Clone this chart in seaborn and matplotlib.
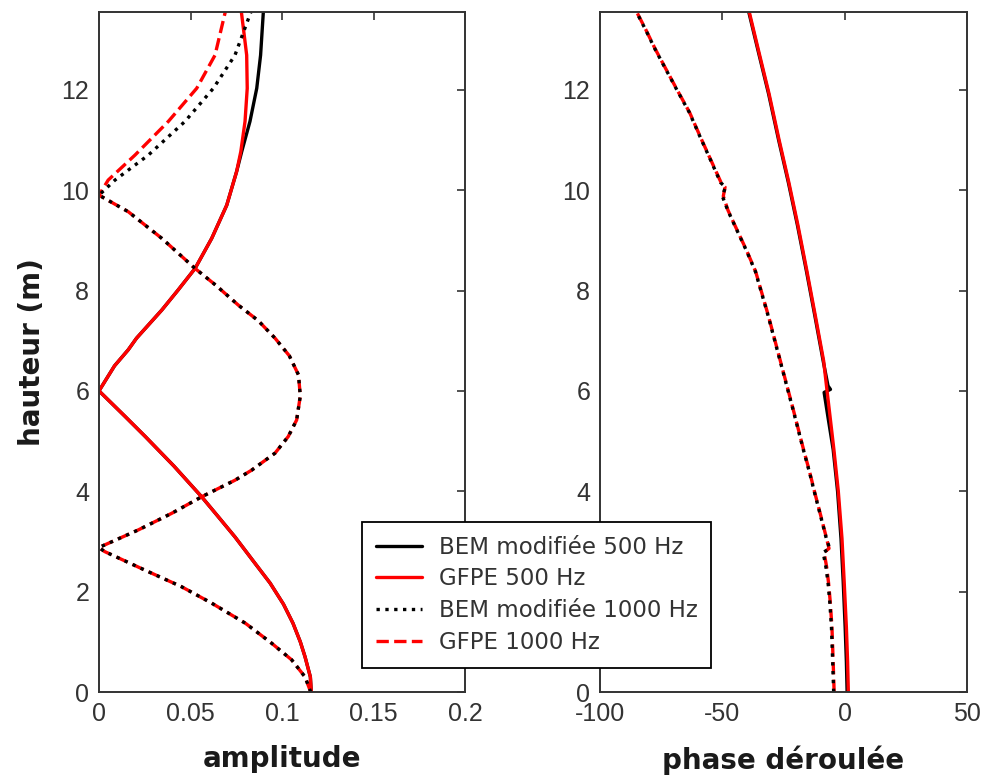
import numpy as np
import pandas as pd
import matplotlib
matplotlib.use("Agg")
import matplotlib.pyplot as plt
import seaborn as sns
from matplotlib.lines import Line2D

# ---------------- data ----------------
# amplitude, 500 Hz
h_amp500 = [0, 0.3, 0.7, 1.0, 1.37, 1.75, 2.17, 2.6, 3.09, 3.5, 3.89, 4.5, 5.09, 5.5, 6.0,
            6.5, 6.82, 7.05, 7.61, 8.0, 8.44, 9.04, 9.7, 10.37, 10.77, 11.37, 12.03, 12.69,
            13.55]
amp500_bem = [0.116, 0.1155, 0.1126, 0.110, 0.106, 0.1008, 0.0935, 0.0845, 0.0743, 0.065,
              0.0561, 0.041, 0.0253, 0.014, 0.0, 0.0085, 0.016, 0.0205, 0.0343, 0.043,
              0.0525, 0.0616, 0.0698, 0.0752, 0.078, 0.0825, 0.0862, 0.0883, 0.0898]
amp500_gfpe = [0.116, 0.1155, 0.1126, 0.110, 0.106, 0.1008, 0.0935, 0.0845, 0.0743, 0.065,
               0.0561, 0.041, 0.0253, 0.014, 0.0, 0.0085, 0.016, 0.0205, 0.0343, 0.043,
               0.0525, 0.0616, 0.0698, 0.0752, 0.0775, 0.0798, 0.081, 0.0807, 0.0778]
# amplitude, 1000 Hz
h_amp1000 = [0, 0.3, 0.64, 0.97, 1.37, 1.77, 2.1, 2.43, 2.8, 2.88, 3.23, 3.56, 3.89, 4.22,
             4.42, 4.76, 5.09, 5.42, 5.9, 6.32, 6.7, 7.05, 7.4, 7.71, 8.1, 8.44, 9.04, 9.57,
             9.9, 10.2, 10.7, 11.37, 12.03, 12.69, 13.55]
amp1000_bem = [0.1157, 0.1126, 0.1053, 0.0944, 0.080, 0.0616, 0.045, 0.025, 0.003, 0.0,
               0.0215, 0.0397, 0.0561, 0.0743, 0.0834, 0.0962, 0.1034, 0.108, 0.110, 0.109,
               0.104, 0.0962, 0.087, 0.0761, 0.064, 0.0525, 0.0343, 0.016, 0.0, 0.0087,
               0.027, 0.047, 0.0625, 0.0743, 0.083]
amp1000_gfpe = [0.1157, 0.1126, 0.1053, 0.0944, 0.080, 0.0616, 0.045, 0.025, 0.003, 0.0,
                0.0215, 0.0397, 0.0561, 0.0743, 0.0834, 0.0962, 0.1034, 0.108, 0.110, 0.109,
                0.104, 0.0962, 0.087, 0.0761, 0.064, 0.0525, 0.0343, 0.016, 0.0, 0.005,
                0.0197, 0.0379, 0.0534, 0.0634, 0.069]

# unwrapped phase, 500 Hz
h_ph500_bem = [0, 0.6, 1.29, 2.2, 3.06, 4.0, 4.83, 5.5, 5.97, 6.03, 6.1, 6.6, 7.5, 8.38,
               9.3, 10.15, 11.0, 11.92, 12.7, 13.55]
ph500_bem = [1.0, 0.7, 0.2, -0.6, -1.5, -2.9, -4.7, -6.9, -8.4, -5.8, -6.8, -8.8, -12.2,
             -15.6, -19.3, -23.0, -27.0, -31.1, -35.0, -39.2]
h_ph500_gfpe = [0, 0.6, 1.29, 2.2, 3.06, 4.0, 4.83, 5.5, 6.0, 6.6, 7.5, 8.38, 9.3, 10.15,
                11.0, 11.92, 12.7, 13.55]
ph500_gfpe = [1.5, 1.2, 0.7, -0.2, -1.1, -2.6, -4.4, -6.0, -7.2, -8.6, -12.0, -15.4, -19.1,
              -22.8, -26.8, -30.9, -34.8, -39.0]
# unwrapped phase, 1000 Hz
h_ph1000 = [0, 0.6, 1.29, 1.8, 2.18, 2.5, 2.78, 2.86, 3.06, 3.5, 3.95, 4.4, 4.83, 5.7,
            6.6, 7.5, 8.38, 8.8, 9.26, 9.6, 9.88, 10.06, 10.15, 10.6, 11.03, 11.55, 12.0,
            12.49, 12.81, 13.2, 13.55]
ph1000_bem = [-4.5, -4.9, -5.4, -6.1, -6.8, -7.7, -8.8, -6.1, -7.5, -9.8, -12.2, -14.5,
              -16.9, -21.5, -26.4, -31.3, -36.5, -40.2, -44.6, -47.8, -50.0, -48.7, -50.7,
              -54.8, -58.8, -63.5, -68.6, -74.0, -77.5, -81.4, -85.1]
ph1000_gfpe = [-4.3, -4.7, -5.2, -5.9, -6.6, -7.4, -8.4, -6.4, -7.4, -9.7, -12.1, -14.4,
               -16.8, -21.4, -26.3, -31.2, -36.4, -40.1, -44.5, -47.7, -49.6, -48.9, -50.5,
               -54.7, -58.7, -63.4, -68.5, -73.9, -77.4, -81.3, -85.0]

series_labels = ["BEM modifiée 500 Hz", "GFPE 500 Hz", "BEM modifiée 1000 Hz", "GFPE 1000 Hz"]
amp_ticks = [0, 0.05, 0.1, 0.15, 0.2]
amp_ticklabels = ["0", "0.05", "0.1", "0.15", "0.2"]
phase_ticks = [-100, -50, 0, 50]
h_ticks = [0, 2, 4, 6, 8, 10, 12]

# ---------------- styling ----------------
sns.set_theme(style="white")
plt.rcParams["font.family"] = ["DejaVu Sans"]
plt.rcParams["axes.unicode_minus"] = False
plt.rcParams["axes.edgecolor"] = "#333333"
plt.rcParams["text.color"] = "#1a1a1a"
plt.rcParams["axes.labelcolor"] = "#1a1a1a"
plt.rcParams["xtick.color"] = "#333333"
plt.rcParams["ytick.color"] = "#333333"

TICK_FONT = dict(family=["Liberation Sans", "DejaVu Sans"], size=18)
LABEL_FONT = dict(family=["DejaVu Sans"], size=20, weight="bold")

W, H = 981, 778
fig = plt.figure(figsize=(W / 100, H / 100), dpi=100)
ax1 = fig.add_axes([99 / W, (H - 692) / H, 366 / W, 680 / H])
ax2 = fig.add_axes([600 / W, (H - 692) / H, 367 / W, 680 / H])

styles = [("black", "-"), ("red", "-"), ("black", ":"), ("red", "--")]
lw = 2.4
draw_order = [0, 1, 3, 2]

amp_sets = [(h_amp500, amp500_bem), (h_amp500, amp500_gfpe),
            (h_amp1000, amp1000_bem), (h_amp1000, amp1000_gfpe)]
ph_sets = [(h_ph500_bem, ph500_bem), (h_ph500_gfpe, ph500_gfpe),
           (h_ph1000, ph1000_bem), (h_ph1000, ph1000_gfpe)]

for ax, sets in ((ax1, amp_sets), (ax2, ph_sets)):
    for i in draw_order:
        hh, vv = sets[i]
        c, ls = styles[i]
        df = pd.DataFrame({"x": vv, "h": hh})
        sns.lineplot(data=df, x="x", y="h", sort=False, estimator=None, ax=ax,
                     color=c, linestyle=ls, linewidth=lw)

for ax in (ax1, ax2):
    ax.set_ylim(0, 13.55)
    ax.set_yticks(h_ticks)
    ax.set_yticklabels([str(t) for t in h_ticks])
    ax.tick_params(direction="in", length=6, width=1.2, top=True, right=True, pad=7)
    for s in ax.spines.values():
        s.set_linewidth(1.4)
        s.set_visible(True)
    ax.set_ylabel("")

ax1.set_xlim(0, 0.2)
ax1.set_xticks(amp_ticks)
ax1.set_xticklabels(amp_ticklabels)
ax2.set_xlim(-100, 50)
ax2.set_xticks(phase_ticks)
ax2.set_xticklabels([str(t) for t in phase_ticks])

for ax in (ax1, ax2):
    for lab in ax.get_xticklabels() + ax.get_yticklabels():
        lab.set_fontfamily(TICK_FONT["family"])
        lab.set_fontsize(TICK_FONT["size"])
        lab.set_color("#333333")

# the right panel's "2" label sits behind the legend in the reference
ax2.get_yticklabels()[1].set_visible(False)

ax1.set_xlabel("amplitude", labelpad=14, **LABEL_FONT)
ax2.set_xlabel("phase déroulée", labelpad=14, **LABEL_FONT)
ax1.set_ylabel("hauteur (m)", labelpad=11, **LABEL_FONT)

handles = [Line2D([], [], color=c, linestyle=ls, linewidth=lw) for c, ls in styles]
leg = fig.legend(handles, series_labels, loc="upper left",
                 bbox_to_anchor=(362 / W, (H - 522) / H), borderaxespad=0,
                 prop=dict(family=["DejaVu Sans"], size=16.5),
                 frameon=True, fancybox=False, framealpha=1, edgecolor="black",
                 handlelength=2.0, handletextpad=0.75, borderpad=0.6, labelspacing=0.38)
leg.get_frame().set_linewidth(1.3)
for t in leg.get_texts():
    t.set_color("#333333")

fig.savefig("out.png", dpi=100)
